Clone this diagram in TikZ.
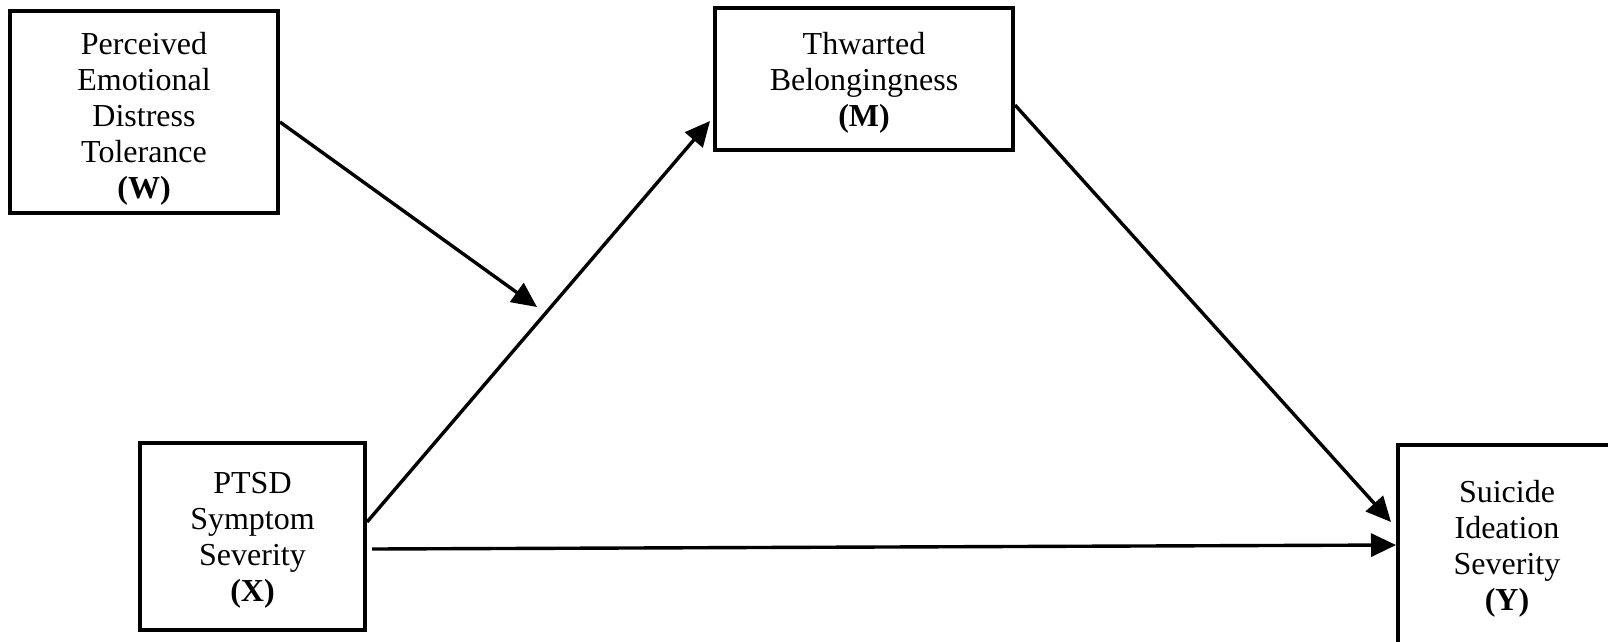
\documentclass[tikz,border=0pt]{standalone}
\usepackage{fontspec}
\setmainfont{Liberation Serif}
\usetikzlibrary{arrows.meta}

\tikzset{
  box/.style={draw, line width=4pt, inner sep=0pt},
  lbl/.style={inner sep=0pt, align=center,
    font=\fontsize{32}{36}\selectfont},
  link/.style={line width=3.4pt, -{Triangle[length=25pt,width=23pt]}}
}

\begin{document}
\begin{tikzpicture}[x=1pt, y=-1pt]
  \clip (0,0) rectangle (1608,641);

  % Variables of the moderated mediation model
  \node[box, minimum width=268pt, minimum height=202pt,
    label={[lbl, yshift=-7pt]center:{Perceived\\Emotional\\Distress\\Tolerance\\\textbf{(W)}}}]
    (W) at (144,112) {};
  \node[box, minimum width=298pt, minimum height=142pt,
    label={[lbl, yshift=-4pt]center:{Thwarted\\Belongingness\\\textbf{(M)}}}]
    (M) at (864,79) {};
  \node[box, minimum width=225pt, minimum height=187pt,
    label={[lbl, yshift=-4pt]center:{PTSD\\Symptom\\Severity\\\textbf{(X)}}}]
    (X) at (252.5,536.5) {};
  \node[box, minimum width=218pt, minimum height=200pt,
    label={[lbl, yshift=-4pt]center:{Suicide\\Ideation\\Severity\\\textbf{(Y)}}}]
    (Y) at (1507,545) {};

  % Moderation arrow aimed at the X -> M path
  \coordinate (wtip) at (537,307);

  % Paths
  \draw[link] ([yshift=-10pt]W.east) -- (wtip);
  \draw[link] ([yshift=14.5pt]X.east) -- ([xshift=-3pt,yshift=-42pt]M.west);
  \draw[link] ([yshift=-26pt]M.east) -- ([xshift=-5pt,yshift=23pt]Y.west);
  \draw[link] ([xshift=5pt,yshift=-12.5pt]X.east) -- (Y.west);
\end{tikzpicture}
\end{document}
